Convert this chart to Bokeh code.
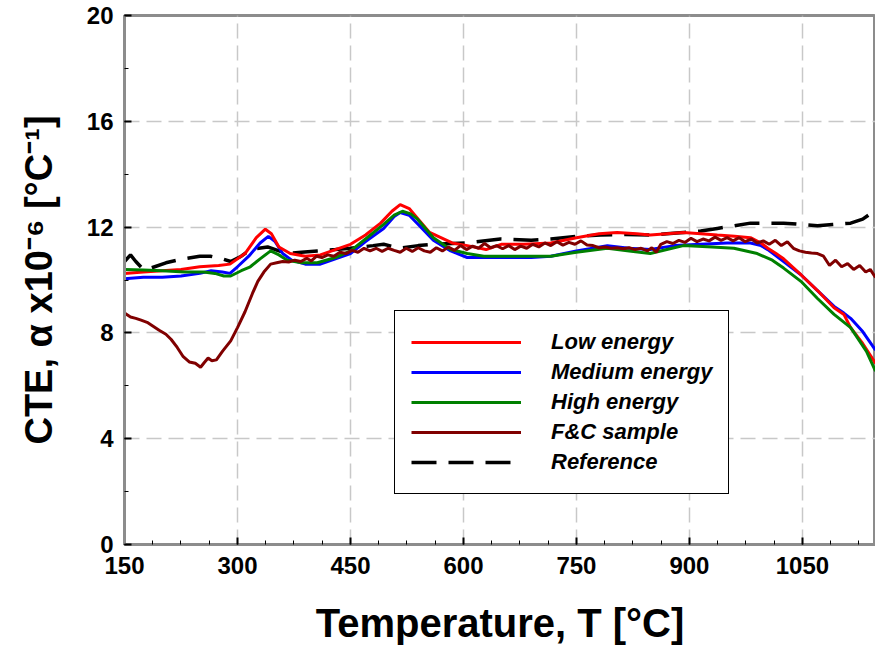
from bokeh.plotting import figure
from bokeh.models import Range1d, SingleIntervalTicker, Legend, LegendItem
from bokeh.embed import file_html
from bokeh.resources import INLINE

# ---------------- data ----------------
low_T = [150, 175, 200, 225, 250, 275, 290, 310, 325, 337, 345, 355, 370, 390, 410, 430,
         450, 470, 490, 505, 516, 528, 540, 555, 570, 585, 605, 630, 650, 680, 716, 750,
         780, 804, 830, 848, 870, 892, 915, 937, 960, 981, 995, 1004, 1015, 1025, 1048,
         1070, 1092, 1105, 1114, 1130, 1147]
low_v = [10.25, 10.3, 10.35, 10.4, 10.5, 10.55, 10.6, 11.0, 11.6, 11.92, 11.75, 11.25, 11.0,
         10.9, 10.95, 11.15, 11.35, 11.7, 12.15, 12.6, 12.85, 12.7, 12.3, 11.8, 11.6, 11.4,
         11.3, 11.15, 11.35, 11.35, 11.4, 11.6, 11.75, 11.8, 11.75, 11.7, 11.75, 11.8, 11.75,
         11.7, 11.65, 11.6, 11.4, 11.2, 11.0, 10.8, 10.2, 9.6, 8.95, 8.7, 8.2, 7.6, 6.85]

med_T = [150, 175, 200, 225, 250, 265, 280, 290, 300, 315, 330, 341, 350, 360, 372, 390,
         410, 430, 450, 470, 494, 508, 516, 528, 540, 560, 583, 605, 627, 660, 690, 716,
         750, 791, 820, 848, 880, 915, 950, 981, 995, 1004, 1025, 1048, 1070, 1092, 1105,
         1114, 1130, 1147]
med_v = [10.05, 10.1, 10.1, 10.15, 10.25, 10.35, 10.3, 10.25, 10.5, 10.9, 11.4, 11.65, 11.45,
         11.0, 10.75, 10.6, 10.6, 10.8, 11.0, 11.45, 11.95, 12.4, 12.55, 12.45, 12.1, 11.5,
         11.1, 10.85, 10.85, 10.85, 10.85, 10.9, 11.1, 11.3, 11.2, 11.15, 11.3, 11.35, 11.4,
         11.4, 11.3, 11.15, 10.7, 10.2, 9.6, 9.0, 8.75, 8.55, 8.05, 7.35]

high_T = [150, 175, 200, 230, 255, 270, 282, 291, 305, 317, 330, 344, 355, 366, 385, 406,
          430, 450, 470, 494, 508, 519, 530, 539, 560, 583, 605, 627, 660, 716, 750, 791,
          820, 848, 870, 892, 930, 959, 990, 1010, 1025, 1048, 1070, 1092, 1114, 1135, 1147]
high_v = [10.4, 10.38, 10.35, 10.3, 10.3, 10.25, 10.15, 10.15, 10.35, 10.5, 10.8, 11.1, 10.95,
          10.75, 10.65, 10.65, 10.85, 11.1, 11.55, 12.1, 12.45, 12.6, 12.5, 12.3, 11.6, 11.15,
          11.0, 10.9, 10.9, 10.9, 11.05, 11.2, 11.1, 11.0, 11.15, 11.3, 11.25, 11.2, 11.0,
          10.75, 10.45, 9.95, 9.3, 8.7, 8.2, 7.3, 6.55]

fc_T = [150, 158, 165, 172, 180, 188, 196, 205, 212, 220, 228, 236, 244, 251, 256, 261, 266,
        272, 280, 291, 300, 310, 320, 327, 335, 344, 352, 360, 368, 376, 384, 392, 398, 405,
        412, 420, 428, 436, 444, 452, 460, 468, 476, 484, 492, 500, 508, 516, 524, 532, 540,
        548, 556, 564, 572, 580, 588, 596, 604, 612, 620, 628, 636, 644, 652, 660, 668, 676,
        684, 692, 700, 708, 716, 724, 732, 740, 748, 756, 764, 772, 780, 788, 796, 804, 812,
        820, 828, 836, 844, 850, 856, 862, 870, 878, 886, 894, 902, 910, 918, 926, 934, 942,
        950, 958, 966, 974, 982, 990, 998, 1006, 1014, 1022, 1030, 1038, 1046, 1054, 1062,
        1070, 1078, 1086, 1094, 1102, 1110, 1118, 1126, 1134, 1140, 1147]
fc_v = [8.75, 8.6, 8.55, 8.48, 8.4, 8.25, 8.1, 7.95, 7.75, 7.45, 7.1, 6.9, 6.85, 6.7, 6.88,
        7.05, 6.95, 6.98, 7.3, 7.7, 8.2, 8.8, 9.5, 9.95, 10.3, 10.6, 10.65, 10.7, 10.68, 10.75,
        10.7, 10.82, 10.72, 10.9, 10.85, 10.95, 10.9, 11.05, 11.0, 11.12, 11.05, 11.2, 11.1,
        11.2, 11.08, 11.2, 11.12, 11.05, 11.2, 11.08, 11.22, 11.1, 11.05, 11.22, 11.1, 11.25,
        11.12, 11.3, 11.15, 11.28, 11.2, 11.38, 11.22, 11.3, 11.18, 11.3, 11.15, 11.28, 11.2,
        11.35, 11.25, 11.4, 11.3, 11.45, 11.32, 11.42, 11.35, 11.48, 11.32, 11.3, 11.22, 11.25,
        11.2, 11.22, 11.18, 11.22, 11.15, 11.2, 11.1, 11.22, 11.05, 11.35, 11.45, 11.38, 11.5,
        11.42, 11.58, 11.45, 11.55, 11.48, 11.62, 11.5, 11.6, 11.48, 11.6, 11.45, 11.55, 11.4,
        11.48, 11.35, 11.5, 11.3, 11.45, 11.2, 11.1, 11.05, 11.02, 11.0, 10.9, 10.55, 10.75,
        10.5, 10.62, 10.4, 10.55, 10.3, 10.4, 10.1]

ref_T = [150, 158, 165, 175, 185, 205, 228, 250, 264, 280, 291, 305, 317, 340, 355, 366, 385,
         406, 430, 450, 480, 494, 516, 540, 560, 605, 649, 690, 716, 750, 782, 815, 848, 870,
         892, 915, 937, 960, 981, 1000, 1025, 1048, 1070, 1090, 1114, 1130, 1140, 1147]
ref_v = [10.7, 10.95, 10.7, 10.4, 10.45, 10.65, 10.8, 10.9, 10.9, 10.8, 10.7, 10.9, 11.15,
         11.25, 11.1, 11.0, 11.05, 11.1, 11.15, 11.2, 11.3, 11.35, 11.2, 11.3, 11.35, 11.4,
         11.55, 11.5, 11.55, 11.65, 11.7, 11.72, 11.7, 11.75, 11.8, 11.85, 11.95, 12.05, 12.15,
         12.15, 12.15, 12.1, 12.05, 12.1, 12.15, 12.3, 12.5, 12.7]

series_names = ["Low energy", "Medium energy", "High energy", "F&C sample", "Reference"]
x_title = "Temperature, T [°C]"
y_title = "CTE, α x10⁻⁶ [°C⁻¹]"

FONT = "Liberation Sans"
GRAY = "#8c8c8c"

p = figure(width=875, height=655, output_backend="svg", toolbar_location=None,
           x_range=Range1d(150, 1147), y_range=Range1d(0, 20),
           min_border_left=124, min_border_right=0, min_border_top=15,
           min_border_bottom=111)
p.background_fill_color = "white"
p.border_fill_color = "white"
p.outline_line_color = GRAY
p.outline_line_width = 3

p.xaxis.ticker = SingleIntervalTicker(interval=150, num_minor_ticks=4)
p.yaxis.ticker = SingleIntervalTicker(interval=4, num_minor_ticks=2)
for ax in (p.xaxis, p.yaxis):
    ax.axis_line_color = GRAY
    ax.axis_line_width = 3
    ax.major_tick_in = 7
    ax.major_tick_out = 0
    ax.minor_tick_in = 4
    ax.minor_tick_out = 0
    ax.major_tick_line_color = "black"
    ax.major_tick_line_width = 2
    ax.minor_tick_line_color = "black"
    ax.minor_tick_line_width = 1
    ax.major_label_text_font = FONT
    ax.major_label_text_font_style = "bold"
    ax.major_label_text_font_size = "24px"
    ax.major_label_text_color = "black"
    ax.axis_label_text_font = FONT
    ax.axis_label_text_font_style = "bold"
    ax.axis_label_text_color = "black"
p.xaxis.axis_label_text_font_size = "40px"
p.yaxis.axis_label_text_font_size = "38px"
p.xaxis.major_label_standoff = 12
p.yaxis.major_label_standoff = 11
p.xaxis.axis_label = x_title
p.yaxis.axis_label = y_title
p.xaxis.axis_label_standoff = 24
p.yaxis.axis_label_standoff = 24

for g in (p.xgrid, p.ygrid):
    g.grid_line_color = "#c8c8c8"
    g.grid_line_dash = "15 7"
    g.grid_line_width = 1.5

r_ref = p.line(ref_T, ref_v, line_color="black", line_width=3.5, line_dash="25 12")
r_med = p.line(med_T, med_v, line_color="#0000ff", line_width=3)
r_low = p.line(low_T, low_v, line_color="#ff0000", line_width=3)
r_high = p.line(high_T, high_v, line_color="#008000", line_width=3)
r_fc = p.line(fc_T, fc_v, line_color="#800000", line_width=3)

legend = Legend(items=[
    LegendItem(label=series_names[0], renderers=[r_low]),
    LegendItem(label=series_names[1], renderers=[r_med]),
    LegendItem(label=series_names[2], renderers=[r_high]),
    LegendItem(label=series_names[3], renderers=[r_fc]),
    LegendItem(label=series_names[4], renderers=[r_ref]),
], location=(270, 50))
legend.border_line_color = "black"
legend.border_line_alpha = 1
legend.border_line_width = 1.5
legend.background_fill_color = "white"
legend.background_fill_alpha = 1
legend.label_text_font = FONT
legend.label_text_font_style = "bold italic"
legend.label_text_font_size = "22px"
legend.label_text_color = "black"
legend.glyph_width = 110
legend.glyph_height = 30
legend.label_height = 30
legend.spacing = 0
legend.padding = 16
legend.margin = 0
legend.label_standoff = 30
p.add_layout(legend)

open("out.html", "w").write(file_html(p, INLINE))
